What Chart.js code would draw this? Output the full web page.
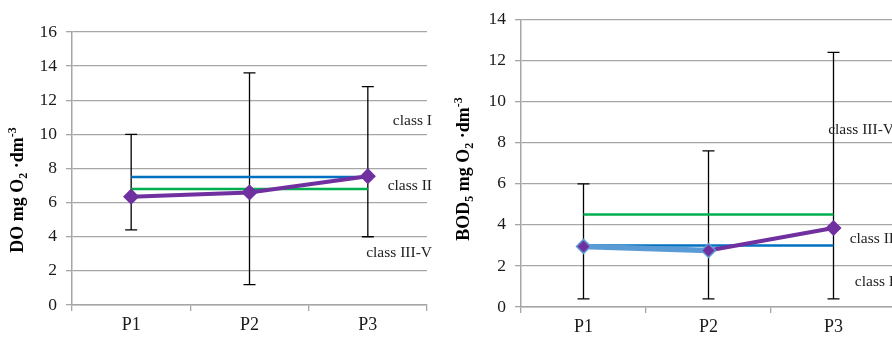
<!DOCTYPE html>
<html lang="en">
<head>
    <meta charset="UTF-8">
    <title>DO and BOD5</title>
    <script src="https://cdn.jsdelivr.net/npm/chart.js"></script>
    <style>
        body {
            margin: 0;
            background: #fff;
            overflow: hidden;
            width: 892px;
            height: 337px;
            position: relative;
        }
        canvas {
            position: absolute;
            top: 0;
        }
        #doChart { left: 0; }
        #bodChart { left: 446px; }
    </style>
</head>
<body>
    <canvas id="doChart" width="446" height="337"></canvas>
    <canvas id="bodChart" width="460" height="337"></canvas>

    <script>
        // sampling points
        var categories = ['P1', 'P2', 'P3'];

        // DO (left chart)
        var doMean = [6.35, 6.6, 7.55];
        var doLow = [4.4, 1.2, 4.0];
        var doHigh = [10.0, 13.6, 12.8];
        var doLimitBlue = [7.5, 7.5, 7.5];
        var doLimitGreen = [6.8, 6.8, 6.8];
        var doTicks = [0, 16, 2];
        var doClassText = ['class I', 'class II', 'class III-V'];
        var doClassAt = [10.8, 7.0, 3.05];

        // BOD5 (right chart)
        var bodMean = [2.95, 2.75, 3.85];
        var bodLow = [0.4, 0.4, 0.4];
        var bodHigh = [6.0, 7.6, 12.4];
        var bodLimitBlue = [3, 3, 3];
        var bodLimitGreen = [4.5, 4.5, 4.5];
        var bodTicks = [0, 14, 2];
        var bodClassText = ['class III-V', 'class II', 'class I'];
        var bodClassAt = [8.6, 3.3, 1.2];

        var serif = "'Liberation Serif', 'Times New Roman', serif";
        var gridGray = '#a6a6a6';

        // error bars, class labels and the axis title with sub/superscripts
        var extrasPlugin = {
            id: 'extras',
            beforeDatasetsDraw: function (chart) {
                var o = chart.options.plugins.extras;
                var ctx = chart.ctx, xs = chart.scales.x, ys = chart.scales.y;
                ctx.save();
                ctx.strokeStyle = '#000';
                ctx.lineWidth = 1.3;
                for (var i = 0; i < categories.length; i++) {
                    var x = xs.getPixelForValue(i);
                    var y1 = ys.getPixelForValue(o.low[i]);
                    var y2 = ys.getPixelForValue(o.high[i]);
                    ctx.beginPath();
                    ctx.moveTo(x, y1); ctx.lineTo(x, y2);
                    ctx.moveTo(x - 6, y1); ctx.lineTo(x + 6, y1);
                    ctx.moveTo(x - 6, y2); ctx.lineTo(x + 6, y2);
                    ctx.stroke();
                }
                ctx.restore();
            },
            afterDraw: function (chart) {
                var o = chart.options.plugins.extras;
                var ctx = chart.ctx, ys = chart.scales.y;
                ctx.save();
                ctx.fillStyle = '#222';
                ctx.font = '15.5px ' + serif;
                ctx.textAlign = 'right';
                ctx.textBaseline = 'middle';
                for (var i = 0; i < o.classText.length; i++) {
                    ctx.fillText(o.classText[i], chart.chartArea.right + o.labelShift, ys.getPixelForValue(o.classAt[i]));
                }

                // rotated y title
                ctx.translate(o.titleX, o.titleY);
                ctx.rotate(-Math.PI / 2);
                ctx.textAlign = 'left';
                ctx.textBaseline = 'alphabetic';
                ctx.fillStyle = '#000';
                var widths = [];
                var total = 0;
                o.title.forEach(function (p) {
                    ctx.font = 'bold ' + p[1] + 'px ' + serif;
                    var w = ctx.measureText(p[0]).width;
                    widths.push(w);
                    total += w;
                });
                var cx = -total / 2;
                o.title.forEach(function (p, k) {
                    ctx.font = 'bold ' + p[1] + 'px ' + serif;
                    ctx.fillText(p[0], cx, p[2]);
                    cx += widths[k];
                });
                ctx.restore();
            }
        };

        function makeChart(id, mean, blue, green, ticks, extras, box) {
            return new Chart(document.getElementById(id), {
                type: 'line',
                data: {
                    labels: categories,
                    datasets: [{
                        data: mean,
                        borderColor: '#7030A0',
                        borderWidth: 4,
                        pointStyle: 'rectRot',
                        pointRadius: 7,
                        pointBackgroundColor: '#7030A0',
                        pointBorderColor: extras.pointBorder,
                        pointBorderWidth: 1.5,
                        segment: extras.segment,
                        order: 0
                    }, {
                        data: blue,
                        borderColor: '#0070C0',
                        borderWidth: 2.5,
                        pointRadius: 0,
                        order: 1
                    }, {
                        data: green,
                        borderColor: '#00B050',
                        borderWidth: 2.5,
                        pointRadius: 0,
                        order: 2
                    }]
                },
                options: {
                    responsive: false,
                    animation: false,
                    layout: { padding: box.padding },
                    plugins: {
                        legend: { display: false },
                        tooltip: { enabled: false },
                        extras: extras
                    },
                    scales: {
                        x: {
                            offset: true,
                            grid: { drawOnChartArea: false, offset: true, tickLength: 6, color: gridGray, lineWidth: 1.3 },
                            border: { color: gridGray, width: 1.5 },
                            ticks: { color: '#1a1a1a', font: { family: serif, size: 18 }, padding: 3 },
                            afterFit: function (s) { s.height = box.xHeight; }
                        },
                        y: {
                            min: ticks[0],
                            max: ticks[1],
                            grid: { color: gridGray, lineWidth: 1.3, tickLength: 6 },
                            border: { color: gridGray, width: 1.5 },
                            ticks: { stepSize: ticks[2], color: '#1a1a1a', font: { family: serif, size: 17.5 }, padding: 9 },
                            afterFit: function (s) { s.width = box.yWidth; }
                        }
                    }
                },
                plugins: [extrasPlugin]
            });
        }

        makeChart('doChart', doMean, doLimitBlue, doLimitGreen, doTicks, {
            low: doLow, high: doHigh,
            classText: doClassText, classAt: doClassAt, labelShift: 5,
            pointBorder: '#7030A0',
            segment: {},
            titleX: 17, titleY: 190,
            title: [['DO mg O', 18, 6], ['2', 12, 10], [' \u00b7dm', 18, 6], ['-3', 12, -1]]
        }, { padding: { top: 32, right: 19, left: 0, bottom: 0 }, xHeight: 32, yWidth: 72 });

        makeChart('bodChart', bodMean, bodLimitBlue, bodLimitGreen, bodTicks, {
            low: bodLow, high: bodHigh,
            classText: bodClassText, classAt: bodClassAt, labelShift: -2,
            pointBorder: ['#5B9BD5', '#5B9BD5', '#7030A0'],
            segment: {
                borderColor: function (c) { return c.p0DataIndex === 0 ? '#5B9BD5' : undefined; },
                borderWidth: function (c) { return c.p0DataIndex === 0 ? 5.5 : undefined; }
            },
            titleX: 17, titleY: 169,
            title: [['BOD', 18, 6], ['5', 12, 10], [' mg O', 18, 6], ['2', 12, 10], [' \u00b7dm', 18, 6], ['-3', 12, -1]]
        }, { padding: { top: 16, right: 10, left: 0, bottom: 0 }, xHeight: 30, yWidth: 75 });
    </script>
</body>
</html>
